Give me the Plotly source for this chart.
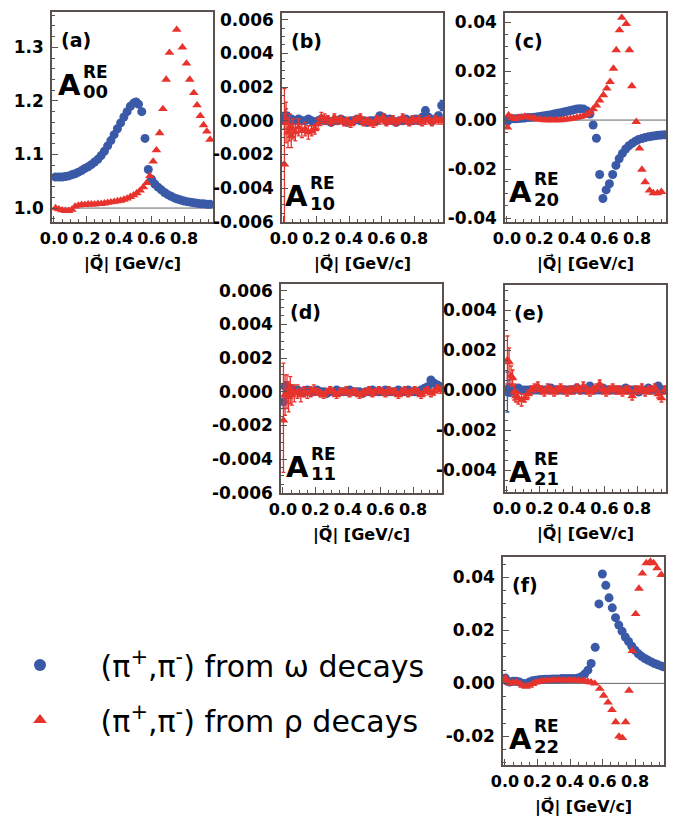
import plotly.graph_objects as go

W, H = 680, 820
BLUE = "#3a5aa8"
RED = "#e8332d"
FRAME = "#5a524e"
FONT = "DejaVu Sans"

# ---------------- data ----------------
# panel (a) A00
XA_W = [0.01, 0.03, 0.05, 0.07, 0.09, 0.11, 0.13, 0.15, 0.17, 0.19, 0.21, 0.23, 0.25, 0.27, 0.29,
        0.31, 0.33, 0.35, 0.37, 0.39, 0.41, 0.43, 0.45, 0.47, 0.49,
        0.505, 0.52, 0.54, 0.56, 0.58, 0.60,
        0.62, 0.64, 0.66, 0.68, 0.70, 0.72, 0.74, 0.76, 0.78, 0.80, 0.82, 0.84, 0.86, 0.88, 0.90, 0.92, 0.94, 0.96]
YA_W = [1.058, 1.058, 1.058, 1.059, 1.060, 1.062, 1.064, 1.067, 1.070, 1.074, 1.077, 1.081, 1.086, 1.091, 1.098,
        1.106, 1.116, 1.126, 1.137, 1.148, 1.159, 1.170, 1.180, 1.190, 1.196,
        1.198, 1.194, 1.180, 1.130, 1.072, 1.054,
        1.045, 1.039, 1.034, 1.029, 1.025, 1.022, 1.019, 1.017, 1.015, 1.013, 1.012, 1.011, 1.010, 1.009, 1.008, 1.008, 1.007, 1.007]
XA_R = [0.01, 0.03, 0.05, 0.07, 0.09, 0.11, 0.13, 0.15, 0.17, 0.19, 0.21, 0.23, 0.25, 0.27, 0.29,
        0.31, 0.33, 0.35, 0.37, 0.39, 0.41, 0.43, 0.45, 0.47, 0.49, 0.51, 0.53, 0.55, 0.57,
        0.59, 0.61, 0.63, 0.65, 0.67, 0.69, 0.71, 0.755, 0.79, 0.815, 0.835, 0.86, 0.88, 0.90, 0.92, 0.94, 0.96]
YA_R = [1.000, 0.998, 0.996, 0.995, 0.995, 0.997, 1.003, 1.005, 1.006, 1.006, 1.007, 1.007, 1.007, 1.008, 1.008,
        1.009, 1.010, 1.011, 1.012, 1.013, 1.014, 1.016, 1.018, 1.021, 1.024, 1.028, 1.033, 1.039, 1.047,
        1.060, 1.087, 1.108, 1.140, 1.185, 1.240, 1.290, 1.333, 1.300, 1.270, 1.240, 1.215, 1.192, 1.172, 1.155, 1.143, 1.128]

# panel (c) A20
XC_W = [0.003, 0.01, 0.03, 0.05, 0.07, 0.09, 0.11, 0.13, 0.15, 0.17, 0.19, 0.21, 0.23, 0.25, 0.27, 0.29,
        0.31, 0.33, 0.35, 0.37, 0.39, 0.41, 0.43, 0.45, 0.47, 0.49, 0.51,
        0.53, 0.55, 0.57, 0.59,
        0.61, 0.63, 0.65, 0.67, 0.69, 0.71, 0.73, 0.75, 0.77, 0.79, 0.81, 0.83, 0.85, 0.87, 0.89, 0.91, 0.93, 0.95, 0.97]
YC_W = [-0.0005, 0.0002, 0.0005, 0.0005, 0.0006, 0.0007, 0.0008, 0.001, 0.0011, 0.0012, 0.0014, 0.0016, 0.0018, 0.002, 0.0022, 0.0025,
        0.0028, 0.003, 0.0033, 0.0036, 0.0039, 0.0042, 0.0045, 0.0046, 0.0045, 0.0038, 0.0025,
        -0.002, -0.0074, -0.0222, -0.032,
        -0.0285, -0.026, -0.0222, -0.0185, -0.0158, -0.0136, -0.0118, -0.0105, -0.0095, -0.0086, -0.0079, -0.0075, -0.0071, -0.0068, -0.0066, -0.0064, -0.0062, -0.0061, -0.006]
XC_R = [0.003, 0.01, 0.03, 0.05, 0.07, 0.09, 0.11, 0.13, 0.15, 0.17, 0.19, 0.21, 0.23, 0.25, 0.27, 0.29,
        0.31, 0.33, 0.35, 0.37, 0.39, 0.41, 0.43, 0.45, 0.47, 0.49, 0.51, 0.53, 0.55, 0.57,
        0.593, 0.614, 0.634, 0.655, 0.672, 0.692, 0.706, 0.733, 0.753, 0.768, 0.795, 0.815, 0.83, 0.85, 0.877, 0.90, 0.925, 0.95]
YC_R = [-0.003, 0.002, 0.001, 0.0005, 0.001, 0.0012, 0.0015, 0.0012, 0.001, 0.0006, 0.0003, 0.0002, 0.0, 0.0, 0.0, 0.0,
        0.0, 0.0, 0.0002, 0.0003, 0.0005, 0.0007, 0.001, 0.0013, 0.0017, 0.0022, 0.003, 0.0045, 0.006, 0.008,
        0.0102, 0.0129, 0.0156, 0.021, 0.0286, 0.0367, 0.0418, 0.0393, 0.0286, 0.0139, -0.0007, -0.0116, -0.0202, -0.0253, -0.0287, -0.0298, -0.0298, -0.0293]

# panel (f) A22
XF_W = [0.003, 0.01, 0.03, 0.05, 0.07, 0.09, 0.11, 0.13, 0.15, 0.17, 0.19, 0.21, 0.23, 0.25, 0.27, 0.29,
        0.31, 0.33, 0.35, 0.37, 0.39, 0.41, 0.43, 0.45, 0.47, 0.49,
        0.51, 0.53, 0.555, 0.578, 0.599, 0.62, 0.64, 0.66, 0.68, 0.70, 0.72, 0.74, 0.76, 0.78, 0.80, 0.82,
        0.84, 0.86, 0.88, 0.90, 0.92, 0.94, 0.96, 0.975]
YF_W = [0.002, 0.001, 0.0005, 0.0008, 0.0008, 0.0005, 0.0, 0.0, 0.0005, 0.001, 0.0012, 0.0014, 0.0015, 0.0016, 0.0016, 0.0017,
        0.0017, 0.0017, 0.0018, 0.0018, 0.0018, 0.0018, 0.0018, 0.002, 0.0025, 0.0035,
        0.005, 0.0075, 0.0136, 0.030, 0.0413, 0.037, 0.0323, 0.0285, 0.0248, 0.022, 0.0197, 0.0175, 0.0158, 0.014, 0.0125, 0.0112,
        0.0102, 0.0094, 0.0087, 0.0081, 0.0075, 0.007, 0.0066, 0.0063]
XF_R = [0.003, 0.01, 0.03, 0.05, 0.07, 0.09, 0.11, 0.13, 0.15, 0.17, 0.19, 0.21, 0.23, 0.25, 0.27, 0.29,
        0.31, 0.33, 0.35, 0.37, 0.39, 0.41, 0.43, 0.45, 0.47, 0.49, 0.51, 0.53,
        0.552, 0.583, 0.607, 0.634, 0.658, 0.681, 0.701, 0.722, 0.742, 0.763, 0.783, 0.804, 0.824, 0.845, 0.869, 0.894, 0.914, 0.935, 0.961]
YF_R = [0.002, 0.001, 0.0, 0.0003, 0.0006, 0.0, -0.0008, -0.0012, -0.0008, -0.0002, 0.0004, 0.0007, 0.0009, 0.001, 0.0011, 0.0012,
        0.0012, 0.0012, 0.0012, 0.0012, 0.0012, 0.0012, 0.0011, 0.0011, 0.001, 0.0009, 0.0007, 0.0004,
        0.0, -0.002, -0.0046, -0.0072, -0.01, -0.0146, -0.02, -0.0206, -0.0146, -0.0027, 0.0123, 0.0262, 0.0358, 0.0415, 0.0454, 0.046, 0.0454, 0.0435, 0.041]

# noisy panels (b) A10, (d) A11, (e) A21 share a binning
XN = [0.003, 0.013, 0.025, 0.035, 0.045, 0.055, 0.07, 0.09, 0.11, 0.13, 0.15, 0.17, 0.19, 0.21, 0.23, 0.25,
      0.27, 0.29, 0.31, 0.33, 0.35, 0.37, 0.39, 0.41, 0.43, 0.45, 0.47, 0.49, 0.51, 0.53, 0.55, 0.57, 0.59,
      0.61, 0.63, 0.65, 0.67, 0.69, 0.71, 0.73, 0.75, 0.77, 0.79, 0.81, 0.83, 0.85, 0.87, 0.89, 0.91, 0.93, 0.95, 0.97]

YB_R = [-0.0026, -0.0001, -0.0007, -0.0004, -0.0009, -0.0005, -0.0007, -0.0004, -0.0006, -0.0005,
        -0.0007, -0.0006, -0.0005, -0.0002, 0.0002, 0.0001, 0.0001, -0.0001, 0.0002, 0.0,
        0.0001, -0.0001, 0.0, -0.0002, 0.0, 0.0001, 0.0002, -0.0001, 0.0, -0.0001,
        -0.0002, 0.0001, 0.0, 0.0002, -0.0001, 0.0, 0.0001, -0.0001, 0.0, 0.0002,
        0.0, -0.0001, 0.0001, 0.0, 0.0001, -0.0001, 0.0, 0.0001, -0.0001, 0.0001,
        0.0, 0.0]
EB_R_UP = [0.0045, 0.0012, 0.0009, 0.0008, 0.0007, 0.0006, 0.0005, 0.0005, 0.0004, 0.0004,
           0.0004, 0.0003, 0.0003, 0.0003, 0.0003, 0.0003, 0.0002, 0.0002, 0.0002, 0.0002,
           0.0002, 0.0002, 0.0002, 0.0002, 0.0002, 0.0002, 0.0002, 0.0002, 0.0002, 0.0002,
           0.0002, 0.0002, 0.0002, 0.0002, 0.0002, 0.0002, 0.0002, 0.0002, 0.0002, 0.0002,
           0.0002, 0.0002, 0.0002, 0.0002, 0.0002, 0.0002, 0.0002, 0.0002, 0.0002, 0.0002,
           0.0002, 0.0002]
EB_R_DN = [0.0050, 0.0012, 0.0009, 0.0008, 0.0007, 0.0006, 0.0005, 0.0005, 0.0004, 0.0004,
           0.0004, 0.0003, 0.0003, 0.0003, 0.0003, 0.0003, 0.0002, 0.0002, 0.0002, 0.0002,
           0.0002, 0.0002, 0.0002, 0.0002, 0.0002, 0.0002, 0.0002, 0.0002, 0.0002, 0.0002,
           0.0002, 0.0002, 0.0002, 0.0002, 0.0002, 0.0002, 0.0002, 0.0002, 0.0002, 0.0002,
           0.0002, 0.0002, 0.0002, 0.0002, 0.0002, 0.0002, 0.0002, 0.0002, 0.0002, 0.0002,
           0.0002, 0.0002]
YB_W = [0.0, 0.0003, 0.0002, 0.0, 0.0001, 0.0, 0.0, 0.0001, 0.0, 0.0,
        0.0001, 0.0, -0.0001, 0.0, 0.0001, 0.0, 0.0, -0.0001, 0.0, 0.0,
        0.0001, 0.0, -0.0001, 0.0, 0.0, 0.0001, 0.0, 0.0, -0.0001, 0.0,
        0.0, 0.0, 0.0003, 0.0002, 0.0, 0.0001, 0.0, -0.0001, 0.0, 0.0,
        0.0001, 0.0, 0.0, 0.0001, 0.0, 0.0002, 0.0006, 0.0002, 0.0, 0.0001,
        0.0003, 0.0009]
EB_W = [0.0005, 0.0004, 0.0003, 0.0002, 0.0002, 0.0002, 0.0001, 0.0001, 0.0001, 0.0001,
        0.0001, 0.0001, 0.0001, 0.0001, 0.0001, 0.0001, 0.0001, 0.0001, 0.0001, 0.0001,
        0.0001, 0.0001, 0.0001, 0.0001, 0.0001, 0.0001, 0.0001, 0.0001, 0.0001, 0.0001,
        0.0001, 0.0001, 0.0001, 0.0001, 0.0001, 0.0001, 0.0001, 0.0001, 0.0001, 0.0001,
        0.0001, 0.0001, 0.0001, 0.0001, 0.0001, 0.0001, 0.0002, 0.0001, 0.0001, 0.0001,
        0.0002, 0.0003]

YD_R = [-0.0017, -0.0002, 0.0, -0.0003, 0.0001, -0.0002, -0.0001, 0.0, -0.0002, 0.0,
        -0.0001, 0.0, 0.0001, 0.0, -0.0001, -0.0002, 0.0, 0.0001, 0.0, -0.0002,
        0.0, 0.0, 0.0001, -0.0001, 0.0, 0.0, -0.0002, -0.0001, 0.0, 0.0001,
        -0.0001, 0.0, 0.0001, 0.0, -0.0001, 0.0001, 0.0, 0.0, -0.0002, 0.0,
        0.0001, -0.0001, 0.0, 0.0001, 0.0, -0.0002, 0.0, 0.0001, -0.0001, 0.0,
        0.0002, 0.0001]
ED_R_UP = [0.0034, 0.0012, 0.0010, 0.0009, 0.0008, 0.0006, 0.0005, 0.0004, 0.0004, 0.0003,
           0.0003, 0.0003, 0.0003, 0.0002, 0.0002, 0.0002, 0.0002, 0.0002, 0.0002, 0.0002,
           0.0002, 0.0002, 0.0002, 0.0002, 0.0002, 0.0002, 0.0002, 0.0002, 0.0002, 0.0002,
           0.0002, 0.0002, 0.0002, 0.0002, 0.0002, 0.0002, 0.0002, 0.0002, 0.0002, 0.0002,
           0.0002, 0.0002, 0.0002, 0.0002, 0.0002, 0.0002, 0.0002, 0.0002, 0.0002, 0.0002,
           0.0002, 0.0002]
ED_R_DN = [0.0031, 0.0012, 0.0010, 0.0009, 0.0008, 0.0006, 0.0005, 0.0004, 0.0004, 0.0003,
           0.0003, 0.0003, 0.0003, 0.0002, 0.0002, 0.0002, 0.0002, 0.0002, 0.0002, 0.0002,
           0.0002, 0.0002, 0.0002, 0.0002, 0.0002, 0.0002, 0.0002, 0.0002, 0.0002, 0.0002,
           0.0002, 0.0002, 0.0002, 0.0002, 0.0002, 0.0002, 0.0002, 0.0002, 0.0002, 0.0002,
           0.0002, 0.0002, 0.0002, 0.0002, 0.0002, 0.0002, 0.0002, 0.0002, 0.0002, 0.0002,
           0.0002, 0.0002]
YD_W = [-0.0006, 0.0003, 0.0003, 0.0002, 0.0002, 0.0001, 0.0001, 0.0001, 0.0, 0.0,
        0.0001, 0.0, 0.0, 0.0001, 0.0, 0.0, -0.0001, 0.0, 0.0, 0.0001,
        0.0, 0.0, 0.0, 0.0001, 0.0, 0.0, 0.0, -0.0001, 0.0, 0.0,
        0.0001, 0.0, 0.0, 0.0, 0.0001, 0.0, 0.0, 0.0, 0.0001, 0.0,
        0.0, 0.0001, 0.0, 0.0, 0.0, 0.0001, 0.0002, 0.0003, 0.0007, 0.0005,
        0.0004, 0.0003]
ED_W = [0.0004, 0.0003, 0.0003, 0.0002, 0.0002, 0.0002, 0.0001, 0.0001, 0.0001, 0.0001,
        0.0001, 0.0001, 0.0001, 0.0001, 0.0001, 0.0001, 0.0001, 0.0001, 0.0001, 0.0001,
        0.0001, 0.0001, 0.0001, 0.0001, 0.0001, 0.0001, 0.0001, 0.0001, 0.0001, 0.0001,
        0.0001, 0.0001, 0.0001, 0.0001, 0.0001, 0.0001, 0.0001, 0.0001, 0.0001, 0.0001,
        0.0001, 0.0001, 0.0001, 0.0001, 0.0001, 0.0001, 0.0001, 0.0001, 0.0002, 0.0001,
        0.0001, 0.0001]

YE_R = [0.0015, 0.0014, 0.0007, 0.0006, -0.0001, -0.0003, -0.0004, -0.0005, -0.0004, -0.0002,
        0.0, 0.0001, 0.0002, 0.0, -0.0001, 0.0001, 0.0, -0.0001, 0.0, 0.0001,
        0.0, -0.0001, 0.0, 0.0, 0.0001, 0.0, 0.0002, 0.0, -0.0001, 0.0,
        0.0001, 0.0003, 0.0, -0.0001, 0.0, 0.0001, 0.0, 0.0, -0.0001, 0.0,
        0.0, -0.0003, 0.0, 0.0, 0.0001, -0.0001, 0.0, 0.0, 0.0001, -0.0002,
        -0.0004, 0.0]
EE_R = [0.0012, 0.0007, 0.0005, 0.0004, 0.0004, 0.0003, 0.0003, 0.0003, 0.0002, 0.0002,
        0.0002, 0.0002, 0.0002, 0.0002, 0.0002, 0.0002, 0.0002, 0.0002, 0.0002, 0.0002,
        0.0002, 0.0002, 0.0002, 0.0002, 0.0002, 0.0002, 0.0002, 0.0002, 0.0002, 0.0002,
        0.0002, 0.0002, 0.0002, 0.0002, 0.0002, 0.0002, 0.0002, 0.0002, 0.0002, 0.0002,
        0.0002, 0.0002, 0.0002, 0.0002, 0.0002, 0.0002, 0.0002, 0.0002, 0.0002, 0.0002,
        0.0002, 0.0002]
YE_W = [-0.0001, 0.0001, 0.0, 0.0, 0.0, 0.0, 0.0001, 0.0, 0.0, 0.0,
        0.0, 0.0, 0.0, 0.0, 0.0, 0.0, 0.0001, 0.0, 0.0, 0.0,
        0.0, 0.0, 0.0, 0.0, 0.0001, 0.0, 0.0, 0.0, 0.0002, 0.0,
        0.0, 0.0, 0.0001, 0.0, 0.0, 0.0, 0.0, 0.0, 0.0, 0.0001,
        0.0, 0.0, 0.0, -0.0001, 0.0, 0.0, 0.0001, 0.0, 0.0, 0.0002,
        0.0, 0.0]
EE_W = [0.0010, 0.0004, 0.0003, 0.0002, 0.0002, 0.0002, 0.0001, 0.0001, 0.0001, 0.0001,
        0.0001, 0.0001, 0.0001, 0.0001, 0.0001, 0.0001, 0.0001, 0.0001, 0.0001, 0.0001,
        0.0001, 0.0001, 0.0001, 0.0001, 0.0001, 0.0001, 0.0001, 0.0001, 0.0001, 0.0001,
        0.0001, 0.0001, 0.0001, 0.0001, 0.0001, 0.0001, 0.0001, 0.0001, 0.0001, 0.0001,
        0.0001, 0.0001, 0.0001, 0.0001, 0.0001, 0.0001, 0.0001, 0.0001, 0.0001, 0.0001,
        0.0001, 0.0001]

X_TICKS = [0.0, 0.2, 0.4, 0.6, 0.8]
X_TICKTEXT = ["0.0", "0.2", "0.4", "0.6", "0.8"]
X_TITLE = "|Q\u20d7| [GeV/c]"
LEG_PAD = "\u00a0\u00a0\u00a0"
LEG_W = LEG_PAD + "(π<sup>+</sup>,π<sup>-</sup>) from ω decays"
LEG_R = LEG_PAD + "(π<sup>+</sup>,π<sup>-</sup>) from ρ decays"

# ---------------- layout helpers ----------------
def px_x(p):
    return p / W


def px_y(p):
    return 1 - p / H


def bold(labels):
    return ["<b>" + t + "</b>" for t in labels]


PANELS = [
    dict(tag="(a)", sub="00", box=(52, 213, 12, 222), yr=[0.974, 1.366], ref=1.0,
         ytv=[1.0, 1.1, 1.2, 1.3], ytt=["1.0", "1.1", "1.2", "1.3"], ymin=0.02),
    dict(tag="(b)", sub="10", box=(282, 443, 13, 222), yr=[-0.00602, 0.0064], ref=0.0,
         ytv=[-0.006, -0.004, -0.002, 0.0, 0.002, 0.004, 0.006],
         ytt=["-0.006", "-0.004", "-0.002", "0.000", "0.002", "0.004", "0.006"], ymin=0.0005),
    dict(tag="(c)", sub="20", box=(505, 666, 13, 222), yr=[-0.0416, 0.0437], ref=0.0,
         ytv=[-0.04, -0.02, 0.0, 0.02, 0.04], ytt=["-0.04", "-0.02", "0.00", "0.02", "0.04"], ymin=0.005),
    dict(tag="(d)", sub="11", box=(281, 442, 284, 493), yr=[-0.00602, 0.0064], ref=0.0,
         ytv=[-0.006, -0.004, -0.002, 0.0, 0.002, 0.004, 0.006],
         ytt=["-0.006", "-0.004", "-0.002", "0.000", "0.002", "0.004", "0.006"], ymin=0.0005),
    dict(tag="(e)", sub="21", box=(505, 666, 285, 492), yr=[-0.0051, 0.00525], ref=0.0,
         ytv=[-0.004, -0.002, 0.0, 0.002, 0.004], ytt=["-0.004", "-0.002", "0.000", "0.002", "0.004"], ymin=0.0005),
    dict(tag="(f)", sub="22", box=(503, 664, 557, 765), yr=[-0.0308, 0.0477], ref=0.0,
         ytv=[-0.02, 0.0, 0.02, 0.04], ytt=["-0.02", "0.00", "0.02", "0.04"], ymin=0.005),
]

SERIES = {
    0: [(XA_W, YA_W, None, None), (XA_R, YA_R, None, None)],
    1: [(XN, YB_W, EB_W, EB_W), (XN, YB_R, EB_R_UP, EB_R_DN)],
    2: [(XC_W, YC_W, None, None), (XC_R, YC_R, None, None)],
    3: [(XN, YD_W, ED_W, ED_W), (XN, YD_R, ED_R_UP, ED_R_DN)],
    4: [(XN, YE_W, EE_W, EE_W), (XN, YE_R, EE_R, EE_R)],
    5: [(XF_W, YF_W, None, None), (XF_R, YF_R, None, None)],
}

fig = go.Figure()
layout = dict(width=W, height=H, margin=dict(l=0, r=0, t=0, b=0, autoexpand=False),
              paper_bgcolor="white", plot_bgcolor="white", showlegend=True)
annotations = []
shapes = []

for i, p in enumerate(PANELS):
    n = "" if i == 0 else str(i + 1)
    xa, ya = "x" + n, "y" + n
    L, R, T, B = p["box"]
    layout["xaxis" + n] = dict(
        domain=[px_x(L), px_x(R)], range=[-0.012, 0.978], anchor=ya,
        tickvals=X_TICKS, ticktext=bold(X_TICKTEXT), ticks="inside", ticklen=6, tickwidth=1, tickcolor=FRAME,
        minor=dict(ticks="inside", ticklen=3, dtick=0.05, tick0=0, tickcolor=FRAME),
        showline=True, linecolor=FRAME, linewidth=1.6, mirror=True, showgrid=False, zeroline=False,
        tickfont=dict(family=FONT, size=16, color="black"), ticklabelstandoff=1, tickangle=0,
    )
    layout["yaxis" + n] = dict(
        domain=[px_y(B), px_y(T)], range=p["yr"], anchor=xa,
        tickvals=p["ytv"], ticktext=bold(p["ytt"]), ticks="inside", ticklen=6, tickwidth=1, tickcolor=FRAME,
        minor=dict(ticks="inside", ticklen=3, dtick=p["ymin"], tick0=0, tickcolor=FRAME),
        showline=True, linecolor=FRAME, linewidth=1.6, mirror=True, showgrid=False, zeroline=False,
        tickfont=dict(family=FONT, size=17, color="black"), ticklabelstandoff=3, tickangle=0,
    )
    shapes.append(dict(type="line", xref=xa + " domain", yref=ya, x0=0, x1=1, y0=p["ref"], y1=p["ref"],
                       line=dict(color="#666", width=1), layer="below"))

    for k, (xs, ys, eu, ed) in enumerate(SERIES[i]):
        col = BLUE if k == 0 else RED
        sym = "circle" if k == 0 else "triangle-up"
        tr = dict(x=xs, y=ys, mode="markers", xaxis=xa, yaxis=ya,
                  marker=dict(symbol=sym, size=9 if k == 0 else 8.5, color=col, line=dict(width=0)),
                  name=LEG_W if k == 0 else LEG_R, legendgroup=str(k),
                  showlegend=(i == 0))
        if eu is not None:
            tr["error_y"] = dict(type="data", array=eu, arrayminus=ed, symmetric=False,
                                 color=col, thickness=1.3, width=2)
        fig.add_trace(go.Scatter(**tr))

    # panel tag
    annotations.append(dict(text="<b>" + p["tag"] + "</b>", x=px_x(L + 7), y=px_y(T + 28),
                            xref="paper", yref="paper", xanchor="left", yanchor="middle", showarrow=False,
                            font=dict(family=FONT, size=19, color="black")))

    # x-axis title (arrow over Q via combining mark)
    cx = (L + R) / 2
    annotations.append(dict(text="<b>" + X_TITLE + "</b>", x=px_x(cx), y=px_y(B + 41),
                            xref="paper", yref="paper", xanchor="center", yanchor="middle", showarrow=False,
                            font=dict(family=FONT, size=16, color="black")))

# A^RE_ij labels: (A centre x, A centre y)
A_POS = [(69, 85), (296, 196), (520, 192), (297, 467), (520, 472), (520, 739)]
for i, p in enumerate(PANELS):
    ax, ay = A_POS[i]
    annotations.append(dict(text="<b>A</b>", x=px_x(ax), y=px_y(ay), xref="paper", yref="paper",
                            xanchor="center", yanchor="middle", showarrow=False,
                            font=dict(family=FONT, size=29, color="black")))
    annotations.append(dict(text="<b>RE</b>", x=px_x(ax + 12), y=px_y(ay - 13), xref="paper", yref="paper",
                            xanchor="left", yanchor="middle", showarrow=False,
                            font=dict(family=FONT, size=17, color="black")))
    annotations.append(dict(text="<b>" + p["sub"] + "</b>", x=px_x(ax + 12), y=px_y(ay + 7), xref="paper", yref="paper",
                            xanchor="left", yanchor="middle", showarrow=False,
                            font=dict(family=FONT, size=18, color="black")))

layout["annotations"] = annotations
layout["shapes"] = shapes
layout["legend"] = dict(x=px_x(8), y=px_y(639), xanchor="left", yanchor="top",
                        font=dict(family=FONT, size=30, color="black"), itemsizing="constant",
                        tracegroupgap=13, traceorder="grouped", bgcolor="rgba(0,0,0,0)", itemwidth=54)
fig.update_layout(**layout)
fig.write_html("out.html")
